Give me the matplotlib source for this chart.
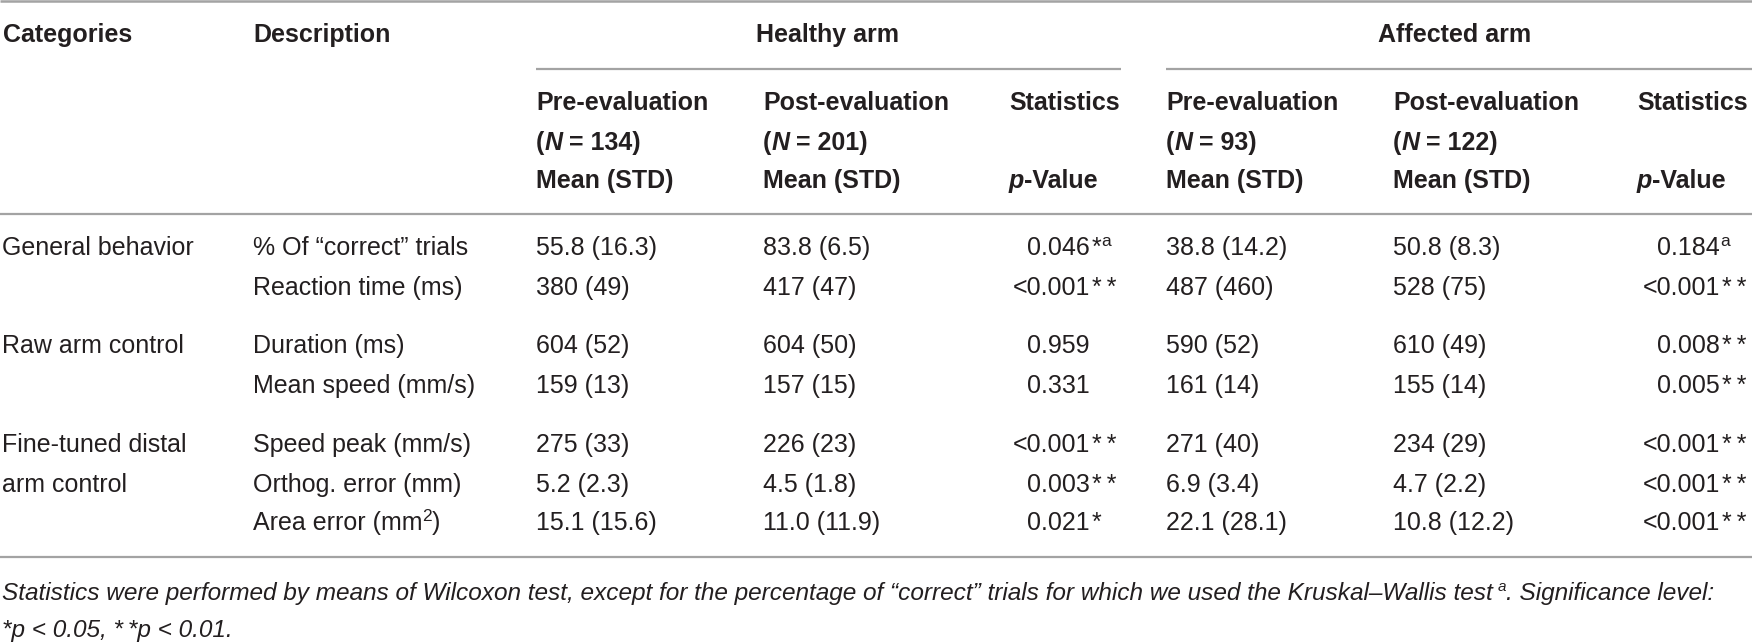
import matplotlib
matplotlib.use("Agg")
import matplotlib.pyplot as plt

# ---------------- data ----------------
categories = ["General behavior", "", "Raw arm control", "", "Fine-tuned distal", "arm control", ""]
descriptions = ["% Of \u201ccorrect\u201d trials", "Reaction time (ms)", "Duration (ms)",
                "Mean speed (mm/s)", "Speed peak (mm/s)", "Orthog. error (mm)", "Area error (mm"]
desc_sup = ["", "", "", "", "", "", "2"]
desc_tail = ["", "", "", "", "", "", ")"]
healthy_pre = ["55.8 (16.3)", "380 (49)", "604 (52)", "159 (13)", "275 (33)", "5.2 (2.3)", "15.1 (15.6)"]
healthy_post = ["83.8 (6.5)", "417 (47)", "604 (50)", "157 (15)", "226 (23)", "4.5 (1.8)", "11.0 (11.9)"]
healthy_p = ["0.046", "<0.001", "0.959", "0.331", "<0.001", "0.003", "0.021"]
healthy_sig = ["*", "**", "", "", "**", "**", "*"]
healthy_sup = ["a", "", "", "", "", "", ""]
affected_pre = ["38.8 (14.2)", "487 (460)", "590 (52)", "161 (14)", "271 (40)", "6.9 (3.4)", "22.1 (28.1)"]
affected_post = ["50.8 (8.3)", "528 (75)", "610 (49)", "155 (14)", "234 (29)", "4.7 (2.2)", "10.8 (12.2)"]
affected_p = ["0.184", "<0.001", "0.008", "0.005", "<0.001", "<0.001", "<0.001"]
affected_sig = ["", "**", "**", "**", "**", "**", "**"]
affected_sup = ["a", "", "", "", "", "", ""]
group_labels = ["Healthy arm", "Affected arm"]
n_values = ["134", "201", "93", "122"]
footnote_1a = ("Statistics were performed by means of Wilcoxon test, except for the percentage of "
               "\u201ccorrect\u201d trials for which we used the Kruskal\u2013Wallis test")
footnote_1b = ". Significance level:"
footnote_2 = "*p < 0.05, *\u2009*p < 0.01."

# ---------------- layout ----------------
W, H = 1752, 643
FONT = ["Liberation Sans", "DejaVu Sans"]
FS = 18
FS_NOTE = 17.6
SUP = 12.5
COL = "#231f20"
LINE = "#a3a3a3"

fig = plt.figure(figsize=(W / 100, H / 100), dpi=100)
ax = fig.add_axes([0, 0, 1, 1])
ax.set_xlim(0, W)
ax.set_ylim(H, 0)
ax.axis("off")
fig.canvas.draw()
renderer = fig.canvas.get_renderer()


def put(x, y, s, weight="normal", style="normal", size=FS, ha="left"):
    return ax.text(x, y, s, ha=ha, va="baseline", fontsize=size, fontweight=weight,
                   fontstyle=style, color=COL, family=FONT)


def width(t):
    if not t.get_text():
        return 0
    bb = t.get_window_extent(renderer=renderer)
    return bb.width


def segs(x, y, pieces):
    """pieces: list of (text, weight, style, size, dy)"""
    for s, w, st, sz, dy in pieces:
        t = put(x, y + dy, s, weight=w, style=st, size=sz)
        x += width(t)
    return x


def stars(s):
    return "\u2009".join(s) if s else s


def hline(x0, x1, y, lw=1.6):
    ax.plot([x0, x1], [y, y], color=LINE, lw=lw, solid_capstyle="butt")


# rules
hline(0, W, 1.2, lw=1.8)
hline(536, 1121, 69)
hline(1166, W, 69)
hline(0, W, 214)
hline(0, W, 557)

# header
put(3, 42, "Categories", weight="bold")
put(253, 42, "Description", weight="bold")
put(828, 42, group_labels[0], weight="bold", ha="center")
put(1455, 42, group_labels[1], weight="bold", ha="center")

sub_x = [536, 763, 1166, 1393]
for i, x in enumerate(sub_x):
    put(x, 110, "Pre-evaluation" if i % 2 == 0 else "Post-evaluation", weight="bold")
    segs(x, 150, [("(", "bold", "normal", FS, 0), ("N", "bold", "italic", FS, 0),
                  (" = " + n_values[i] + ")", "bold", "normal", FS, 0)])
    put(x, 188, "Mean (STD)", weight="bold")
for x in [1009, 1637]:
    put(x, 110, "Statistics", weight="bold")
    segs(x, 188, [("p", "bold", "italic", FS, 0), ("-Value", "bold", "normal", FS, 0)])

# body
baselines = [255, 295, 353, 393, 452, 492, 530]
for i, yb in enumerate(baselines):
    if categories[i]:
        put(2, yb, categories[i])
    segs(253, yb, [(descriptions[i], "normal", "normal", FS, 0),
                   (desc_sup[i], "normal", "normal", SUP, -9),
                   (desc_tail[i], "normal", "normal", FS, 0)])
    put(536, yb, healthy_pre[i])
    put(763, yb, healthy_post[i])
    put(1166, yb, affected_pre[i])
    put(1393, yb, affected_post[i])
    for xr, pv, sg, sp in [(1090, healthy_p[i], healthy_sig[i], healthy_sup[i]),
                           (1720, affected_p[i], affected_sig[i], affected_sup[i])]:
        put(xr, yb, pv, ha="right")
        segs(xr + (2 if sg else 0), yb, [(stars(sg), "normal", "normal", FS, 0),
                                         (sp, "normal", "normal", SUP, -9)])

# footnote
segs(2, 600, [(footnote_1a, "normal", "italic", FS_NOTE, 0),
              ("\u2009", "normal", "italic", FS_NOTE, 0),
              ("a", "normal", "italic", 11, -9),
              (footnote_1b, "normal", "italic", FS_NOTE, 0)])
put(2, 637, footnote_2, style="italic", size=FS_NOTE)

fig.savefig("out.png", dpi=100, facecolor="white")
